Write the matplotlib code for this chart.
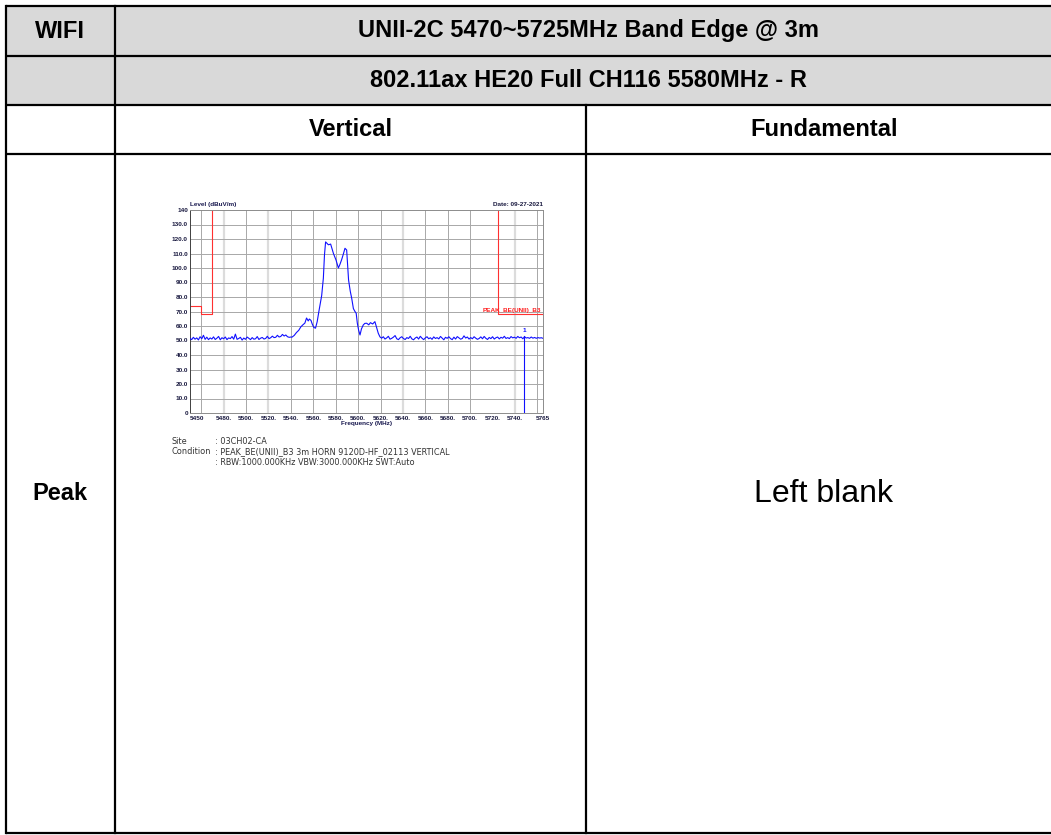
import numpy as np
import matplotlib
matplotlib.use('Agg')
import matplotlib.pyplot as plt

# ---- table text ----
header_title = 'UNII-2C 5470~5725MHz Band Edge @ 3m'
header_mode = '802.11ax HE20 Full CH116 5580MHz - R'
col_labels = ['Vertical', 'Fundamental']
row_label = 'Peak'

# ---- spectrum trace (dBuV/m) ----
# noise floor left of the channel, 5450 - 5540 MHz
floor_left = [51.5, 50.6, 52.2, 50.9, 51.8, 50.4, 52.6, 51.2, 53.6, 50.8,
              52.3, 50.6, 51.8, 51.0, 52.5, 50.7, 51.6, 52.8, 50.5, 51.9,
              51.2, 52.4, 50.6, 51.8, 51.3, 52.7, 50.9, 54.4, 50.8, 51.4,
              52.2, 50.3, 51.7, 50.8, 52.4, 51.5, 50.6, 52.0, 50.9, 51.2,
              52.7, 50.7, 51.6, 52.1, 51.0, 51.4, 52.9, 51.3, 51.9, 53.0,
              52.0, 52.2, 53.6, 52.4, 52.8, 54.2, 53.1, 53.8, 52.6, 52.2,
              52.4]
# channel region, 5541 - 5620 MHz
sig_freq = [5541, 5543, 5545, 5547, 5549, 5551, 5552.5, 5554, 5555.5, 5556.5,
            5558, 5559, 5560.5, 5562, 5563.5, 5565, 5567.5, 5569, 5570, 5571,
            5572.3, 5573.5, 5575.5, 5578, 5580.3, 5582.4, 5583.8, 5585.3,
            5586.8, 5588.3, 5589.8, 5590.8, 5591.5, 5593, 5594.3, 5595.8,
            5597.2, 5598.3, 5599.3, 5600.5, 5601.7, 5603, 5604.6, 5606,
            5607.7, 5609.5, 5611, 5613, 5615, 5616.5, 5618, 5619.5]
sig_level = [52.3, 53.5, 55.5, 57.0, 59.5, 61.0, 62.0, 65.5, 63.5, 64.8,
             63.8, 61.5, 59.0, 58.5, 63.0, 70.0, 81.0, 93.0, 109.0, 118.0,
             117.0, 116.0, 116.5, 110.0, 105.5, 100.0, 102.5, 105.7,
             109.5, 113.6, 112.4, 100.0, 91.7, 84.0, 79.1, 72.0,
             70.0, 68.8, 62.0, 57.0, 53.8, 58.0, 60.7, 61.8,
             61.9, 60.8, 62.3, 61.4, 63.0, 59.0, 55.0, 52.5]
# noise floor right of the channel, 5621 - 5765 MHz
floor_right = [51.6, 52.6, 51.0, 51.8, 52.9, 50.9, 51.5, 52.3, 53.4, 51.2,
               50.6, 51.9, 52.6, 51.3, 50.7, 52.0, 51.4, 52.9, 51.1, 50.5,
               51.7, 52.4, 51.0, 52.9, 51.6, 50.6, 51.8, 52.6, 51.2, 51.9,
               50.8, 52.5, 51.4, 52.0, 51.1, 52.8, 51.6, 50.5, 52.2, 51.5,
               52.6, 51.3, 50.6, 52.3, 51.0, 52.7, 51.8, 50.9, 51.4, 53.2,
               51.7, 52.4, 51.0, 52.0, 51.2, 52.6, 51.6, 50.8, 51.4, 52.5,
               51.2, 52.8, 51.5, 50.7, 52.1, 51.3, 52.6, 51.0, 51.9, 52.4,
               51.1, 52.2, 51.6, 52.9, 51.4, 52.0, 51.3, 52.7, 51.8, 52.3,
               51.5, 52.8, 51.9, 52.4, 51.2, 52.6, 51.7, 52.0, 51.5, 52.4,
               51.6, 52.1, 51.5, 52.0, 51.7, 51.9, 51.5]
marker_freq = 5748
marker_level = 53.0

# ---- limit line (dBuV/m) ----
limit_left_freq = [5450, 5460, 5460, 5470, 5470]
limit_left_level = [74, 74, 68, 68, 140]
limit_right_freq = [5725, 5725, 5765]
limit_right_level = [140, 68, 68]
limit_name = 'PEAK_BE(UNII)_B3'

# ---- axes ----
xtick_vals = [5450, 5480, 5500, 5520, 5540, 5560, 5580, 5600, 5620,
              5640, 5660, 5680, 5700, 5720, 5740, 5765]
xtick_text = ['5450', '5480.', '5500.', '5520.', '5540.', '5560.', '5580.',
              '5600.', '5620.', '5640.', '5660.', '5680.', '5700.', '5720.',
              '5740.', '5765']
ytick_vals = list(range(0, 150, 10))
ytick_text = ['0'] + ['%d.0' % v for v in range(10, 140, 10)] + ['140']
grid_dark = [5460, 5500, 5540, 5560, 5580, 5600, 5620, 5660, 5680, 5700, 5760]
grid_light = [5480, 5520, 5640, 5740]

site_lines = [('Site', ': 03CH02-CA'),
              ('Condition', ': PEAK_BE(UNII)_B3 3m HORN 9120D-HF_02113 VERTICAL'),
              ('', ': RBW:1000.000KHz VBW:3000.000KHz SWT:Auto')]

W, H = 1051, 835
fig = plt.figure(figsize=(W / 100, H / 100), dpi=100)
fig.patch.set_facecolor('white')

# background axes in pixel coordinates for the table
bg = fig.add_axes([0, 0, 1, 1])
bg.set_xlim(0, W)
bg.set_ylim(H, 0)
bg.axis('off')

x_left, x_col1, x_col2, x_right = 5.5, 115, 586, 1062
y_rows = [5.5, 55.5, 104.5, 154, 833]
bg.fill_between([x_left, W], y_rows[0], y_rows[2], color='#d9d9d9', lw=0)
lw = 1.6
for y in y_rows:
    bg.plot([x_left, W], [y, y], color='black', lw=lw, solid_capstyle='butt')
bg.plot([x_left, x_left], [y_rows[0], y_rows[-1]], color='black', lw=lw)
bg.plot([x_col1, x_col1], [y_rows[0], y_rows[-1]], color='black', lw=lw)
bg.plot([x_col2, x_col2], [y_rows[2], y_rows[-1]], color='black', lw=lw)

hfont = dict(family=['Liberation Sans', 'DejaVu Sans'], weight='bold',
             fontsize=17, ha='center', va='center', color='black')
bg.text((x_left + x_col1) / 2, 31, 'WIFI', **hfont)
bg.text((x_col1 + x_right) / 2, 31, header_title, **hfont)
bg.text((x_col1 + x_right) / 2, 80.5, header_mode, **hfont)
bg.text((x_col1 + x_col2) / 2, 129.5, col_labels[0], **hfont)
bg.text((x_col2 + x_right) / 2, 129.5, col_labels[1], **hfont)
bg.text((x_left + x_col1) / 2, 494, row_label, **hfont)
bg.text((x_col2 + x_right) / 2, 494, 'Left blank', family=['Liberation Sans'],
        fontsize=23, ha='center', va='center', color='black')

# ---- spectrum plot ----
ax = fig.add_axes([190 / W, 1 - 413 / H, 353 / W, 203 / H])
ax.set_xlim(5450, 5765)
ax.set_ylim(0, 140)
for v in grid_dark:
    ax.axvline(v, color='#a8a8a8', lw=0.7, zorder=0)
for v in grid_light:
    ax.axvline(v, color='#dcdcdc', lw=1.6, zorder=0)
for v in range(10, 140, 10):
    ax.axhline(v, color='#a8a8a8', lw=0.7, zorder=0)

freq = np.concatenate([np.linspace(5450, 5540, len(floor_left)),
                       sig_freq,
                       np.linspace(5621, 5765, len(floor_right))])
level = np.concatenate([floor_left, sig_level, floor_right])
ax.plot(freq, level, color='#1010ff', lw=0.8, zorder=3)
ax.plot(limit_left_freq, limit_left_level, color='#ff3030', lw=0.8, zorder=2)
ax.plot(limit_right_freq, limit_right_level, color='#ff3030', lw=0.8, zorder=2)
ax.plot([marker_freq, marker_freq], [0, marker_level], color='#1010ff', lw=0.8, zorder=3)

small = dict(family=['Liberation Sans', 'DejaVu Sans'], weight='bold', fontsize=4.6)
ax.text(marker_freq, marker_level + 2, '1', color='#1010ff', ha='center',
        va='bottom', **small)
ax.text(5763, 68.8, limit_name, color='#ff2020', ha='right', va='bottom', **small)

ax.set_xticks(xtick_vals)
ax.set_xticklabels(xtick_text, **small, color='#1a1a40')
ax.set_yticks(ytick_vals)
ax.set_yticklabels(ytick_text, **small, color='#1a1a40')
ax.get_xticklabels()[0].set_ha('left')
ax.tick_params(length=0, pad=2)
ax.tick_params(axis='y', pad=1.5)
for s in ax.spines.values():
    s.set_color('#8c8c8c')
    s.set_linewidth(0.7)
ax.spines['left'].set_color('#404040')

bg.text(190.5, 207, 'Level (dBuV/m)', color='#1a1a50', ha='left', va='bottom', **small)
bg.text(543, 207, 'Date: 09-27-2021', color='#1a1a40', ha='right', va='bottom', **small)
bg.text(366.5, 423.5, 'Frequency (MHz)', color='#1a1a50', ha='center', va='center', **small)

info = dict(family=['DejaVu Sans'], fontsize=5.9, color='#333333', va='center')
for i, (k, v) in enumerate(site_lines):
    y = 441.5 + i * 10.5
    bg.text(172, y, k, ha='left', **info)
    bg.text(215, y, v, ha='left', **info)

fig.savefig('out.png', dpi=100)
